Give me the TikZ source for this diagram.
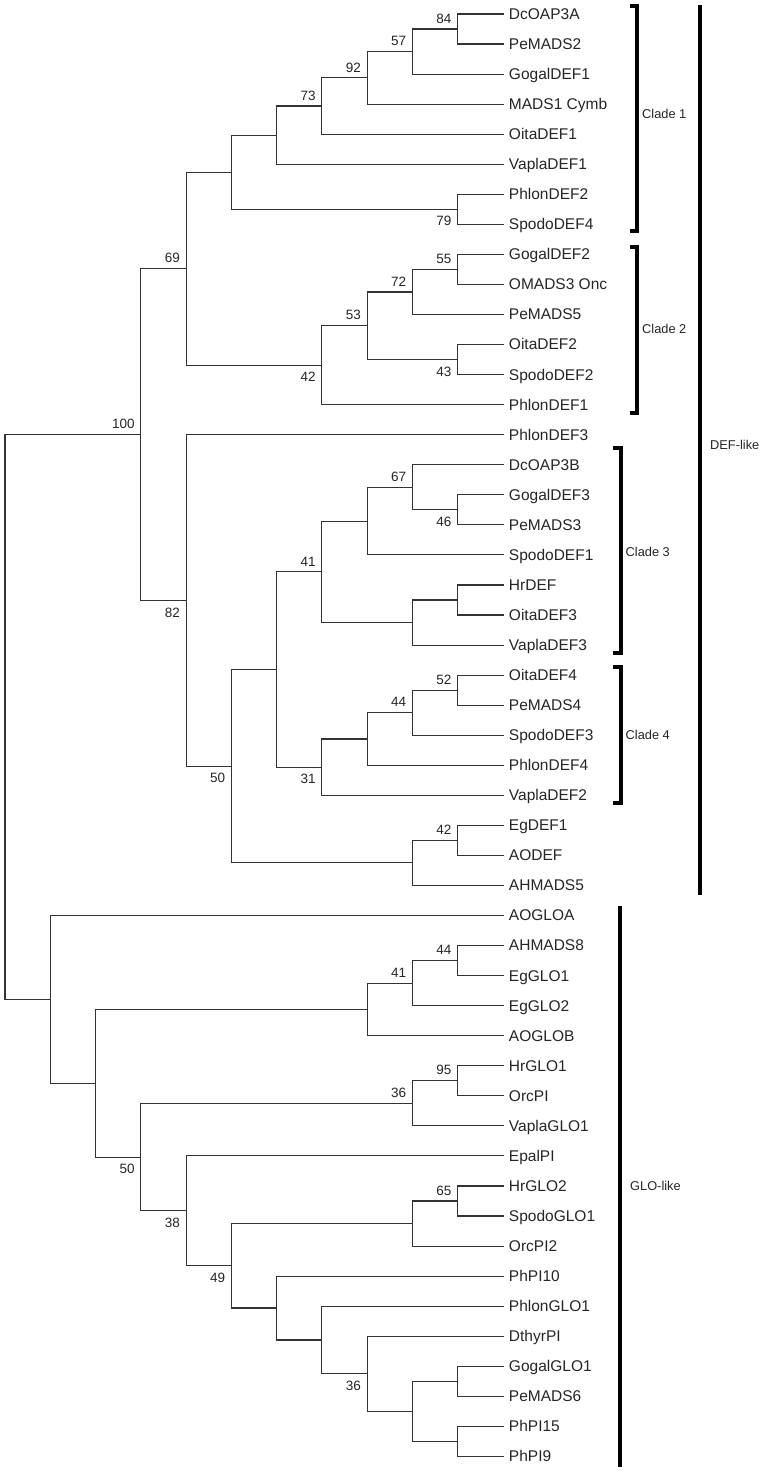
\documentclass[tikz,border=0pt]{standalone}
\usepackage{fontspec}
\setmainfont{Liberation Sans}
\newcommand\mkleaf[3]{\node[leaf] (#1) at (502.97,{14+30.05*(#2-1)}) {#3};}
\newcommand\mknode[3]{\coordinate (#1) at ({5+45.27*#2},{14+30.05*(#3-1)});}
\newcommand\kids[3]{\draw[br] (#2) -| (#1) |- (#3);}
\begin{document}
\begin{tikzpicture}[x=1pt,y=-1pt,
  br/.style={line width=1.1pt, draw=black!80, line cap=rect},
  leaf/.style={anchor=west, inner xsep=6pt, inner ysep=0pt, outer sep=0pt, text height=12pt, text depth=1.2pt, font=\fontsize{15.5}{18}\selectfont, text=black!85},
  supa/.style={anchor=south east, inner sep=0pt, xshift=-6pt, yshift=5.5pt, font=\fontsize{13.5}{16}\selectfont, text=black!85},
  supb/.style={anchor=north east, inner sep=0pt, xshift=-6pt, yshift=-7pt, font=\fontsize{13.5}{16}\selectfont, text=black!85},
  bar/.style={line width=4pt, draw=black},
  cladelab/.style={anchor=west, inner sep=0pt, font=\fontsize{12.8}{15}\selectfont, text=black!85}]
\fill[white] (0,0) rectangle (760,1472);
\useasboundingbox (0,0) rectangle (760,1472);
% leaves
\mkleaf{l1}{1}{DcOAP3A}
\mkleaf{l2}{2}{PeMADS2}
\mkleaf{l3}{3}{GogalDEF1}
\mkleaf{l4}{4}{MADS1 Cymb}
\mkleaf{l5}{5}{OitaDEF1}
\mkleaf{l6}{6}{VaplaDEF1}
\mkleaf{l7}{7}{PhlonDEF2}
\mkleaf{l8}{8}{SpodoDEF4}
\mkleaf{l9}{9}{GogalDEF2}
\mkleaf{l10}{10}{OMADS3 Onc}
\mkleaf{l11}{11}{PeMADS5}
\mkleaf{l12}{12}{OitaDEF2}
\mkleaf{l13}{13}{SpodoDEF2}
\mkleaf{l14}{14}{PhlonDEF1}
\mkleaf{l15}{15}{PhlonDEF3}
\mkleaf{l16}{16}{DcOAP3B}
\mkleaf{l17}{17}{GogalDEF3}
\mkleaf{l18}{18}{PeMADS3}
\mkleaf{l19}{19}{SpodoDEF1}
\mkleaf{l20}{20}{HrDEF}
\mkleaf{l21}{21}{OitaDEF3}
\mkleaf{l22}{22}{VaplaDEF3}
\mkleaf{l23}{23}{OitaDEF4}
\mkleaf{l24}{24}{PeMADS4}
\mkleaf{l25}{25}{SpodoDEF3}
\mkleaf{l26}{26}{PhlonDEF4}
\mkleaf{l27}{27}{VaplaDEF2}
\mkleaf{l28}{28}{EgDEF1}
\mkleaf{l29}{29}{AODEF}
\mkleaf{l30}{30}{AHMADS5}
\mkleaf{l31}{31}{AOGLOA}
\mkleaf{l32}{32}{AHMADS8}
\mkleaf{l33}{33}{EgGLO1}
\mkleaf{l34}{34}{EgGLO2}
\mkleaf{l35}{35}{AOGLOB}
\mkleaf{l36}{36}{HrGLO1}
\mkleaf{l37}{37}{OrcPI}
\mkleaf{l38}{38}{VaplaGLO1}
\mkleaf{l39}{39}{EpalPI}
\mkleaf{l40}{40}{HrGLO2}
\mkleaf{l41}{41}{SpodoGLO1}
\mkleaf{l42}{42}{OrcPI2}
\mkleaf{l43}{43}{PhPI10}
\mkleaf{l44}{44}{PhlonGLO1}
\mkleaf{l45}{45}{DthyrPI}
\mkleaf{l46}{46}{GogalGLO1}
\mkleaf{l47}{47}{PeMADS6}
\mkleaf{l48}{48}{PhPI15}
\mkleaf{l49}{49}{PhPI9}
% internal nodes (DEF)
\mknode{a84}{10}{1.5}
\mknode{a57}{9}{2.25}
\mknode{a92}{8}{3.125}
\mknode{a73}{7}{4.0625}
\mknode{aE}{6}{5.03125}
\mknode{a79}{10}{7.5}
\mknode{aG}{5}{6.265625}
\mknode{a55}{10}{9.5}
\mknode{a72}{9}{10.25}
\mknode{a43}{10}{12.5}
\mknode{a53}{8}{11.375}
\mknode{a42}{7}{12.6875}
\mknode{a69}{4}{9.4765625}
\mknode{a46}{10}{17.5}
\mknode{a67}{9}{16.75}
\mknode{aH}{8}{17.875}
\mknode{aY}{10}{20.5}
\mknode{aX}{9}{21.25}
\mknode{a41}{7}{19.5625}
\mknode{a52}{10}{23.5}
\mknode{a44}{9}{24.25}
\mknode{aI}{8}{25.125}
\mknode{a31}{7}{26.0625}
\mknode{aJ}{6}{22.8125}
\mknode{a42b}{10}{28.5}
\mknode{aK}{9}{29.25}
\mknode{a50}{5}{26.03125}
\mknode{a82}{4}{20.515625}
\mknode{a100}{3}{14.99609375}
% internal nodes (GLO)
\mknode{b44}{10}{32.5}
\mknode{b41}{9}{33.25}
\mknode{bA}{8}{34.125}
\mknode{b95}{10}{36.5}
\mknode{b36}{9}{37.25}
\mknode{b65}{10}{40.5}
\mknode{bB}{9}{41.25}
\mknode{bC}{10}{46.5}
\mknode{bCC}{10}{48.5}
\mknode{bD}{9}{47.5}
\mknode{b36b}{8}{46.25}
\mknode{bE}{7}{45.125}
\mknode{bF}{6}{44.0625}
\mknode{b49}{5}{42.65625}
\mknode{b38}{4}{40.828125}
\mknode{b50}{3}{39.0390625}
\mknode{bG}{2}{36.58203125}
\mknode{bH}{1}{33.791015625}
\mknode{root}{0}{24.3935546875}
% branches
\kids{a84}{l1}{l2}
\kids{a57}{a84}{l3}
\kids{a92}{a57}{l4}
\kids{a73}{a92}{l5}
\kids{aE}{a73}{l6}
\kids{a79}{l7}{l8}
\kids{aG}{aE}{a79}
\kids{a55}{l9}{l10}
\kids{a72}{a55}{l11}
\kids{a43}{l12}{l13}
\kids{a53}{a72}{a43}
\kids{a42}{a53}{l14}
\kids{a69}{aG}{a42}
\kids{a46}{l17}{l18}
\kids{a67}{l16}{a46}
\kids{aH}{a67}{l19}
\kids{aY}{l20}{l21}
\kids{aX}{aY}{l22}
\kids{a41}{aH}{aX}
\kids{a52}{l23}{l24}
\kids{a44}{a52}{l25}
\kids{aI}{a44}{l26}
\kids{a31}{aI}{l27}
\kids{aJ}{a41}{a31}
\kids{a42b}{l28}{l29}
\kids{aK}{a42b}{l30}
\kids{a50}{aJ}{aK}
\kids{a82}{l15}{a50}
\kids{a100}{a69}{a82}
\kids{b44}{l32}{l33}
\kids{b41}{b44}{l34}
\kids{bA}{b41}{l35}
\kids{b95}{l36}{l37}
\kids{b36}{b95}{l38}
\kids{b65}{l40}{l41}
\kids{bB}{b65}{l42}
\kids{bC}{l46}{l47}
\kids{bCC}{l48}{l49}
\kids{bD}{bC}{bCC}
\kids{b36b}{l45}{bD}
\kids{bE}{l44}{b36b}
\kids{bF}{l43}{bE}
\kids{b49}{bB}{bF}
\kids{b38}{l39}{b49}
\kids{b50}{b36}{b38}
\kids{bG}{bA}{b50}
\kids{bH}{l31}{bG}
\kids{root}{a100}{bH}
% support values
\node[supa] (s84) at (a84) {84};
\node[supa] (s57) at (a57) {57};
\node[supa] (s92) at (a92) {92};
\node[supa] (s73) at (a73) {73};
\node[supa] (s69) at (a69) {69};
\node[supa] (s100) at (a100) {100};
\node[supa] (s55) at (a55) {55};
\node[supa] (s72) at (a72) {72};
\node[supa] (s53) at (a53) {53};
\node[supa] (s67) at (a67) {67};
\node[supa] (s41) at (a41) {41};
\node[supa] (s52) at (a52) {52};
\node[supa] (s44) at (a44) {44};
\node[supa] (s42b) at (a42b) {42};
\node[supa] (t44) at (b44) {44};
\node[supa] (t41) at (b41) {41};
\node[supa] (t95) at (b95) {95};
\node[supa] (t36) at (b36) {36};
\node[supa] (t65) at (b65) {65};
\node[supb] (s79) at (a79) {79};
\node[supb] (s43) at (a43) {43};
\node[supb] (s42) at (a42) {42};
\node[supb] (s46) at (a46) {46};
\node[supb] (s82) at (a82) {82};
\node[supb] (s50) at (a50) {50};
\node[supb] (s31) at (a31) {31};
\node[supb] (t50) at (b50) {50};
\node[supb] (t38) at (b38) {38};
\node[supb] (t49) at (b49) {49};
\node[supb] (t36b) at (b36b) {36};
% clade brackets
\draw[bar] (629.5,6) -- (637,6) -- (637,231) -- (629.5,231);
\draw[bar] (629.5,247) -- (637,247) -- (637,413) -- (629.5,413);
\draw[bar] (613,448) -- (621,448) -- (621,653) -- (613,653);
\draw[bar] (613,667) -- (621,667) -- (621,803) -- (613,803);
\draw[bar] (700,5) -- (700,895);
\draw[bar] (619.5,906) -- (619.5,1467);
\node[cladelab] (c1) at (642,114) {Clade 1};
\node[cladelab] (c2) at (642,329) {Clade 2};
\node[cladelab] (c3) at (625.5,552) {Clade 3};
\node[cladelab] (c4) at (625.5,735) {Clade 4};
\node[cladelab] (def) at (710,445) {DEF-like};
\node[cladelab] (glo) at (630,1186) {GLO-like};
\end{tikzpicture}
\end{document}
